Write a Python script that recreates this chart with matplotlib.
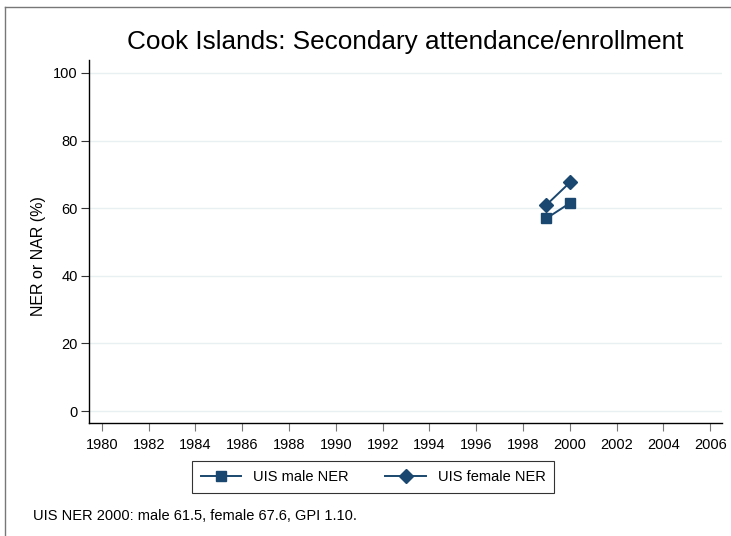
import numpy as np
import matplotlib.pyplot as plt
from matplotlib.lines import Line2D

plt.rcParams['font.family'] = ['Liberation Sans', 'DejaVu Sans']

years = [1999, 2000]
male_ner = [57.0, 61.5]
female_ner = [61.0, 67.6]
xticks = np.arange(1980, 2007, 2)
yticks = [0, 20, 40, 60, 80, 100]
note = "UIS NER 2000: male 61.5, female 67.6, GPI 1.10."

navy = "#1a476f"
W, H = 731, 536

fig = plt.figure(figsize=(W / 100, H / 100), dpi=100)
ax = fig.add_axes([89 / W, 1 - 423 / H, (722 - 89) / W, (423 - 60) / H])

# outer frame of the graph
fig.add_artist(Line2D([5 / W, 5 / W], [0, 1 - 7 / H], color="#777777", lw=1))
fig.add_artist(Line2D([5 / W, 1], [1 - 7 / H, 1 - 7 / H], color="#777777", lw=1))

ax.plot(years, male_ner, color=navy, lw=1.4, marker="s", ms=7, label="UIS male NER")
ax.plot(years, female_ner, color=navy, lw=1.4, marker="D", ms=7, label="UIS female NER")

ax.set_xlim(1979.45, 2006.5)
ax.set_ylim(-3.5, 103.8)
ax.set_xticks(xticks)
ax.set_yticks(yticks)
ax.tick_params(axis="x", labelsize=10.5, length=6, color="#777777", pad=5)
ax.tick_params(axis="y", labelsize=10.5, length=6, color="#333333", pad=2)
ax.grid(axis="y", color="#e8f0f2", lw=1)
ax.set_axisbelow(True)
for s in ["top", "right"]:
    ax.spines[s].set_visible(False)
ax.spines["left"].set_linewidth(1)
ax.spines["bottom"].set_linewidth(1)

ax.set_ylabel("NER or NAR (%)", fontsize=11.5)
ax.yaxis.set_label_coords((46 - 89) / 633, (423 - 256) / 363)
fig.text(405 / W, 1 - 42 / H, "Cook Islands: Secondary attendance/enrollment",
         ha="center", va="center", fontsize=18.8)

leg = fig.legend(loc="center", bbox_to_anchor=(373 / W, 1 - 477 / H), ncol=2,
                 fontsize=10.5, frameon=True, fancybox=False, edgecolor="black",
                 handlelength=2.8, columnspacing=2.5, borderpad=0.6)
leg.get_frame().set_linewidth(0.8)

fig.text(33 / W, 1 - 516 / H, note, ha="left", va="center", fontsize=10.5)

fig.savefig("out.png", dpi=100)
